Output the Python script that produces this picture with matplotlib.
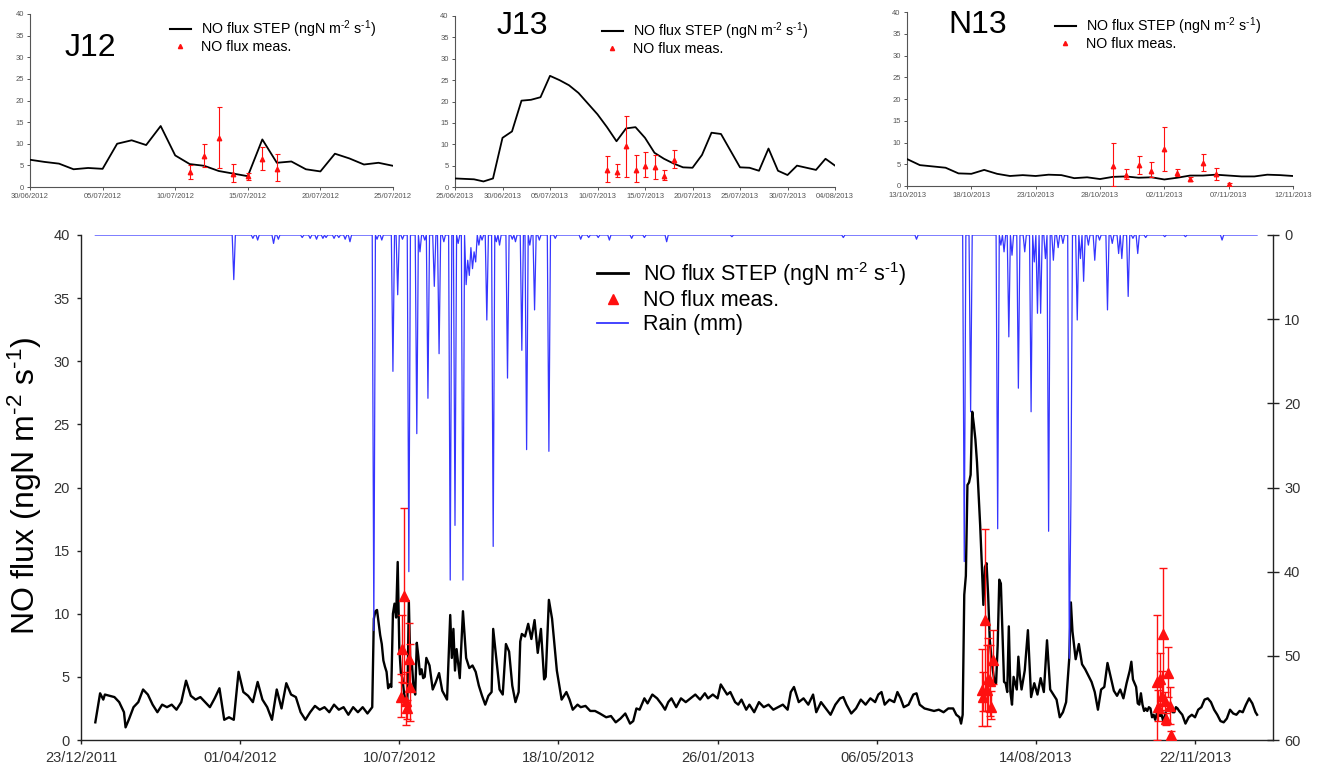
import numpy as np
import pandas as pd
import matplotlib
matplotlib.use('Agg')
import matplotlib.pyplot as plt
import matplotlib.dates as mdates
from matplotlib.lines import Line2D

plt.rcParams['font.family'] = ['Liberation Sans', 'DejaVu Sans']
plt.rcParams['mathtext.fontset'] = 'custom'
plt.rcParams['mathtext.rm'] = 'Liberation Sans'
plt.rcParams['mathtext.it'] = 'Liberation Sans:italic'
plt.rcParams['mathtext.bf'] = 'Liberation Sans:bold'
plt.rcParams['mathtext.default'] = 'regular'

# ---------------- data ----------------
SERIES_START = '2012-01-01'   # day 0 of the day offsets below

# modelled NO flux (STEP), (day offset, value) outside the zoomed windows
step_knots = [
    (0, 1.4), (3, 3.7), (5, 3.2), (6, 3.6), (9, 3.5), (12, 3.4), (15, 3.0), (18, 2.2), (19, 1.0),
    (21, 1.6), (24, 2.6), (27, 3.0), (30, 4.0), (33, 3.6), (36, 2.8), (39, 2.2), (42, 2.8), (45, 2.6),
    (48, 2.8), (51, 2.4), (54, 3.0), (57, 4.7), (60, 3.5), (63, 3.2), (66, 3.4), (69, 3.0), (72, 2.6),
    (75, 3.3), (78, 4.1), (81, 1.6), (84, 1.8), (87, 1.6), (90, 5.4), (93, 3.8), (96, 3.5), (99, 3.0),
    (102, 4.6), (105, 3.2), (108, 2.6), (111, 1.6), (114, 4.0), (117, 2.5), (120, 4.5), (123, 3.6),
    (126, 3.4), (129, 2.2), (132, 1.6), (135, 2.2), (138, 2.7), (141, 2.4), (144, 2.6), (147, 2.2),
    (150, 2.8), (153, 2.4), (156, 2.6), (159, 2.0), (162, 2.6), (165, 2.2), (168, 2.6), (171, 2.1),
    (174, 2.6), (175, 9.6), (176, 10.2), (177, 10.3), (179, 8.3), (180, 7.6),
    (207, 5.0), (208, 6.5), (210, 5.9), (212, 4.0), (214, 4.6), (216, 5.3), (218, 3.9), (221, 3.2),
    (223, 9.9), (224, 6.5), (225, 8.8), (226, 5.5), (227, 7.2), (229, 4.9), (231, 10.2), (233, 6.5),
    (235, 5.7), (237, 5.9), (239, 5.4), (241, 4.3), (243, 3.5), (245, 2.8), (247, 3.5), (249, 3.8),
    (250, 8.8), (252, 6.4), (254, 4.0), (256, 3.6), (258, 7.6), (260, 7.0), (262, 4.3), (264, 3.0),
    (266, 3.8), (267, 7.8), (268, 8.4), (270, 8.2), (272, 9.2), (274, 8.0), (276, 9.5), (278, 6.9),
    (280, 8.8), (282, 4.8), (283, 5.0), (285, 11.1), (287, 9.6), (290, 5.5), (293, 3.2), (296, 3.8),
    (298, 3.2), (300, 2.4), (303, 2.8), (305, 2.6), (308, 2.7), (311, 2.3), (314, 2.3), (317, 2.1),
    (321, 1.8), (324, 1.9), (327, 1.4), (330, 1.7), (333, 2.1), (336, 1.3), (338, 1.5), (340, 2.5),
    (342, 2.4), (345, 3.3), (347, 2.9), (350, 3.6), (353, 3.3), (356, 2.8), (358, 2.4), (360, 3.0),
    (362, 3.3), (365, 2.6), (368, 3.3), (371, 3.0), (374, 3.3), (377, 3.6), (380, 3.2), (383, 3.7),
    (385, 3.3), (388, 3.6), (391, 3.3), (393, 4.4), (395, 4.0), (397, 3.6), (399, 3.8), (402, 3.0),
    (404, 2.8), (406, 3.2), (409, 2.4), (411, 2.8), (414, 2.2), (417, 3.0), (420, 2.6), (423, 2.8),
    (426, 2.4), (429, 2.6), (432, 2.8), (435, 2.4), (437, 3.8), (439, 4.2), (442, 3.0), (445, 3.3),
    (448, 2.8), (451, 3.6), (453, 2.2), (456, 3.0), (459, 2.5), (462, 2.0), (465, 2.8), (468, 3.3),
    (470, 3.4), (472, 2.8), (475, 2.1), (478, 2.5), (481, 3.2), (484, 2.8), (487, 3.3), (490, 3.0),
    (492, 3.6), (494, 3.8), (496, 2.8), (499, 3.2), (502, 3.0), (504, 3.8), (506, 3.3), (508, 2.6),
    (511, 2.8), (514, 3.6), (516, 3.7), (518, 2.8), (521, 2.5), (524, 2.4), (527, 2.3), (530, 2.4),
    (533, 2.2), (536, 2.5), (539, 2.5),
    (582, 4.0), (584, 5.5), (586, 8.7), (588, 3.4), (590, 4.5), (592, 3.6), (594, 4.9), (596, 3.8),
    (598, 7.9), (600, 4.0), (602, 3.6), (604, 3.2), (606, 1.8), (608, 2.2), (610, 3.0), (612, 6.5),
    (613, 10.9), (614, 8.6), (616, 6.4), (618, 7.6), (620, 6.0), (622, 5.6), (624, 5.1), (626, 4.6),
    (628, 3.8), (630, 2.4), (632, 4.0), (634, 4.2), (636, 6.1), (638, 5.0), (640, 3.9), (642, 3.5),
    (644, 4.0), (646, 3.3), (648, 4.5), (650, 5.5),
    (683, 2.0), (685, 1.3), (687, 1.8), (689, 2.0), (691, 1.8), (693, 2.4), (695, 2.6), (697, 3.2),
    (699, 3.3), (701, 3.0), (703, 2.4), (705, 2.0), (707, 1.5), (709, 1.4), (711, 1.7), (713, 2.4),
    (715, 2.1), (717, 2.0), (719, 2.3), (721, 2.2), (723, 2.8), (725, 3.3), (727, 2.9), (729, 2.2),
    (730, 2.0),
]

# daily STEP values inside the three zoom windows
j12_first_day = '2012-06-30'
j12_step = [6.3, 5.8, 5.4, 4.1, 4.4, 4.2, 10.0, 10.8, 9.7, 14.1, 7.3, 5.3, 4.9, 3.7, 3.1, 2.5,
            11.0, 5.6, 5.9, 4.1, 3.6, 7.7, 6.6, 5.2, 5.6, 4.9]
j13_first_day = '2013-06-25'
j13_step = [2.0, 1.9, 1.8, 1.3, 2.0, 11.5, 13.0, 20.2, 20.4, 21.0, 26.0, 25.0, 23.8, 22.0, 19.5,
            17.0, 14.0, 10.7, 13.7, 14.0, 11.5, 8.0, 6.6, 5.5, 4.6, 4.5, 7.5, 12.7, 12.4, 8.5,
            4.6, 4.5, 3.8, 9.0, 3.8, 2.8, 5.0, 4.5, 4.0, 6.6, 5.0]
n13_first_day = '2013-10-13'
n13_step = [6.2, 4.8, 4.5, 4.2, 2.9, 2.8, 3.7, 2.8, 2.3, 2.5, 2.3, 2.6, 2.5, 1.8, 2.0, 1.6,
            2.1, 2.2, 1.9, 2.0, 1.5, 1.9, 2.4, 2.4, 2.6, 2.4, 2.2, 2.2, 2.6, 2.5, 2.3]

# measured NO flux (mean, lower and upper end of the error bar)
j12_meas_first = '2012-07-11'
j12_meas = [3.4, 7.2, 11.4, 3.1, 2.5, 6.4, 4.2]
j12_lo = [1.8, 4.6, 4.5, 1.2, 1.7, 3.9, 1.5]
j12_hi = [5.2, 9.9, 18.4, 5.4, 3.2, 9.3, 7.6]
j13_meas_first = '2013-07-11'
j13_meas = [4.0, 3.4, 9.5, 4.0, 4.8, 4.7, 2.6, 6.3]
j13_lo = [1.1, 2.3, 2.3, 1.1, 2.3, 1.9, 1.7, 4.4]
j13_hi = [7.2, 5.4, 16.7, 7.5, 8.1, 7.5, 3.9, 8.7]
n13_meas_first = '2013-10-29'
n13_meas = [4.6, 2.6, 4.8, 3.5, 8.4, 3.1, 1.7, 5.3, 2.7, 0.4]
n13_lo = [0.0, 1.5, 2.8, 2.1, 3.4, 2.4, 1.2, 3.4, 1.3, 0.0]
n13_hi = [9.9, 4.0, 6.9, 5.5, 13.6, 3.8, 2.1, 7.4, 4.2, 0.7]

# daily rain (mm): rainy days as (day offset, mm); all other days 0
rain_last_day = 730
rain_events = [
    (87, 5.3), (99, 0.4), (102, 0.6), (112, 1.0), (115, 0.5), (130, 0.3), (135, 0.4), (139, 0.5),
    (143, 0.4), (145, 0.3), (150, 0.4), (153, 0.3), (157, 0.5), (160, 0.8), (175, 47.0), (177, 0.5),
    (180, 0.6), (187, 16.2), (190, 7.1), (193, 0.5), (197, 40.0), (202, 23.6), (204, 2.0), (207, 0.6),
    (209, 19.4), (213, 6.1), (216, 14.1), (219, 0.8), (223, 41.0), (226, 34.5), (228, 1.0), (231, 41.0),
    (233, 5.9), (234, 3.0), (235, 4.8), (236, 1.5), (237, 4.0), (238, 2.0), (239, 3.2), (241, 1.2),
    (243, 0.6), (246, 10.1), (250, 37.0), (252, 0.8), (254, 1.2), (259, 17.0), (262, 0.5), (264, 0.8),
    (268, 13.7), (271, 25.5), (273, 1.2), (276, 8.9), (279, 0.6), (285, 25.7), (289, 0.4), (305, 0.5),
    (310, 0.3), (316, 0.3), (323, 0.6), (337, 0.4), (345, 0.3), (359, 0.8), (400, 0.2), (470, 0.3),
    (516, 0.5), (546, 38.8), (550, 21.0), (567, 34.9), (569, 1.2), (571, 2.0), (574, 12.1), (576, 2.4),
    (580, 18.2), (584, 2.0), (588, 21.0), (590, 3.2), (592, 9.3), (594, 9.3), (597, 2.8), (599, 35.2),
    (602, 3.0), (605, 1.5), (608, 1.0), (612, 50.3), (613, 31.7), (617, 10.1), (619, 2.8), (621, 5.5),
    (624, 1.2), (628, 3.0), (631, 0.6), (636, 8.9), (639, 1.0), (643, 2.2), (645, 2.8), (649, 7.3),
    (652, 0.4), (655, 2.2), (660, 0.3), (672, 0.2), (685, 0.2), (708, 0.6),
]

main_xlim = ('2011-12-23', '2014-01-10')
main_tick_start = '2011-12-23'
main_tick_step_days = 100
main_tick_count = 8
windows = {
    'J12': ('2012-06-30', '2012-07-25'),
    'J13': ('2013-06-25', '2013-08-04'),
    'N13': ('2013-10-13', '2013-11-12'),
}

label_step = r'NO flux STEP (ngN m$^{\text{-}2}$ s$^{\text{-}1}$)'
label_meas = 'NO flux meas.'
label_rain = 'Rain (mm)'
ylabel_main = r'NO flux (ngN m$^{\text{-}2}$ s$^{\text{-}1}$)'

# ---------------- assemble series ----------------
t0 = pd.Timestamp(SERIES_START)
k_days = [t0 + pd.Timedelta(days=d) for d, _ in step_knots]
k_vals = [v for _, v in step_knots]
for first, vals in ((j12_first_day, j12_step), (j13_first_day, j13_step), (n13_first_day, n13_step)):
    k_days += list(pd.date_range(first, periods=len(vals), freq='D'))
    k_vals += list(vals)
step_df = pd.DataFrame({'date': k_days, 'flux': k_vals}).sort_values('date')

rain = np.zeros(rain_last_day + 1)
for d, mm in rain_events:
    rain[d] = mm
rain_dates = pd.date_range(SERIES_START, periods=rain_last_day + 1, freq='D')

meas_sets = []
for first, m, lo, hi in ((j12_meas_first, j12_meas, j12_lo, j12_hi),
                         (j13_meas_first, j13_meas, j13_lo, j13_hi),
                         (n13_meas_first, n13_meas, n13_lo, n13_hi)):
    m = np.array(m); lo = np.array(lo); hi = np.array(hi)
    meas_sets.append((pd.date_range(first, periods=len(m), freq='D'), m, m - lo, hi - m))

# ---------------- figure ----------------
W, H = 1329, 767
fig = plt.figure(figsize=(W / 100, H / 100), dpi=100)


def px_axes(l, t, r, b):
    return fig.add_axes([l / W, 1 - b / H, (r - l) / W, (b - t) / H])


RED = '#ff1010'
BLUE = '#3535ff'
TICKC = '#333333'

# ---- main axes ----
ax = px_axes(81, 235, 1273, 740)
ax.plot(step_df['date'], step_df['flux'], color='black', lw=1.7, zorder=3)
for dts, m, el, eh in meas_sets:
    ax.errorbar(dts, m, yerr=[el, eh], fmt='^', color=RED, ecolor=RED, ms=6.5,
                elinewidth=1.0, capsize=3, capthick=1.0, zorder=4)
ax.set_xlim(pd.Timestamp(main_xlim[0]), pd.Timestamp(main_xlim[1]))
ax.set_ylim(0, 40)
ax.set_yticks(range(0, 41, 5))
ticks = [pd.Timestamp(main_tick_start) + pd.Timedelta(days=main_tick_step_days * k)
         for k in range(main_tick_count)]
ax.set_xticks(ticks)
ax.xaxis.set_major_formatter(mdates.DateFormatter('%d/%m/%Y'))
for s in ('top', 'right'):
    ax.spines[s].set_visible(False)
for s in ('left', 'bottom'):
    ax.spines[s].set_color('#222222')
    ax.spines[s].set_linewidth(1.0)
ax.tick_params(axis='both', direction='out', length=3, width=1, colors='#222222',
               labelcolor=TICKC, labelsize=10.5, pad=5)

ax2 = ax.twinx()
ax2.plot(rain_dates, rain, color=BLUE, lw=0.9, zorder=2)
ax2.set_ylim(60, 0)
ax2.set_yticks(range(0, 61, 10))
for s in ('top', 'left', 'bottom'):
    ax2.spines[s].set_visible(False)
ax2.spines['right'].set_color('#222222')
ax2.spines['right'].set_linewidth(1.0)
ax2.tick_params(axis='y', direction='inout', length=8, width=1, colors='#222222',
                labelcolor=TICKC, labelsize=10.5, pad=4)

fig.text(25 / W, 1 - 486 / H, ylabel_main, rotation=90, fontsize=23,
         ha='center', va='center')

main_handles = [Line2D([], [], color='black', lw=2.0),
                Line2D([], [], color=RED, marker='^', ls='none', ms=7),
                Line2D([], [], color=BLUE, lw=1.3)]
fig.legend(main_handles, [label_step, label_meas, label_rain], loc='upper left',
           bbox_to_anchor=(597 / W, 1 - 260 / H), frameon=False, fontsize=15.5,
           handlelength=1.45, handletextpad=0.7, labelspacing=0.12,
           borderpad=0, borderaxespad=0)

# ---- inset axes ----
inset_specs = [
    ('J12', (30, 14, 393, 187), (65, 48), (170, 18)),
    ('J13', (455, 16, 835, 187), (497, 26), (602, 20)),
    ('N13', (907, 12, 1293, 186), (948, 25), (1055, 15)),
]
for name, box, lab_xy, leg_xy in inset_specs:
    a = px_axes(*box)
    a.plot(step_df['date'], step_df['flux'], color='black', lw=1.3, zorder=3)
    for dts, m, el, eh in meas_sets:
        a.errorbar(dts, m, yerr=[el, eh], fmt='^', color=RED, ecolor=RED, ms=3.2,
                   elinewidth=0.8, capsize=1.8, capthick=0.8, zorder=4)
    w0, w1 = windows[name]
    a.set_xlim(pd.Timestamp(w0), pd.Timestamp(w1))
    a.set_ylim(0, 40)
    a.set_yticks(range(0, 41, 5))
    a.set_xticks(pd.date_range(w0, w1, freq='5D'))
    a.xaxis.set_major_formatter(mdates.DateFormatter('%d/%m/%Y'))
    for s in ('top', 'right'):
        a.spines[s].set_visible(False)
    for s in ('left', 'bottom'):
        a.spines[s].set_color('#555555')
        a.spines[s].set_linewidth(0.8)
    a.tick_params(axis='both', direction='out', length=2.5, width=0.7, colors='#555555',
                  labelcolor='#555555', labelsize=5.5, pad=2)
    fig.text(lab_xy[0] / W, 1 - lab_xy[1] / H, name, fontsize=23, ha='left', va='center')
    h = [Line2D([], [], color='black', lw=1.5),
         Line2D([], [], color=RED, marker='^', ls='none', ms=3)]
    fig.legend(h, [label_step, label_meas], loc='upper left',
               bbox_to_anchor=(leg_xy[0] / W, 1 - leg_xy[1] / H), frameon=False,
               fontsize=10.3, handlelength=1.45, handletextpad=0.7, labelspacing=0.02,
               borderpad=0, borderaxespad=0)

fig.savefig('out.png', dpi=100)
